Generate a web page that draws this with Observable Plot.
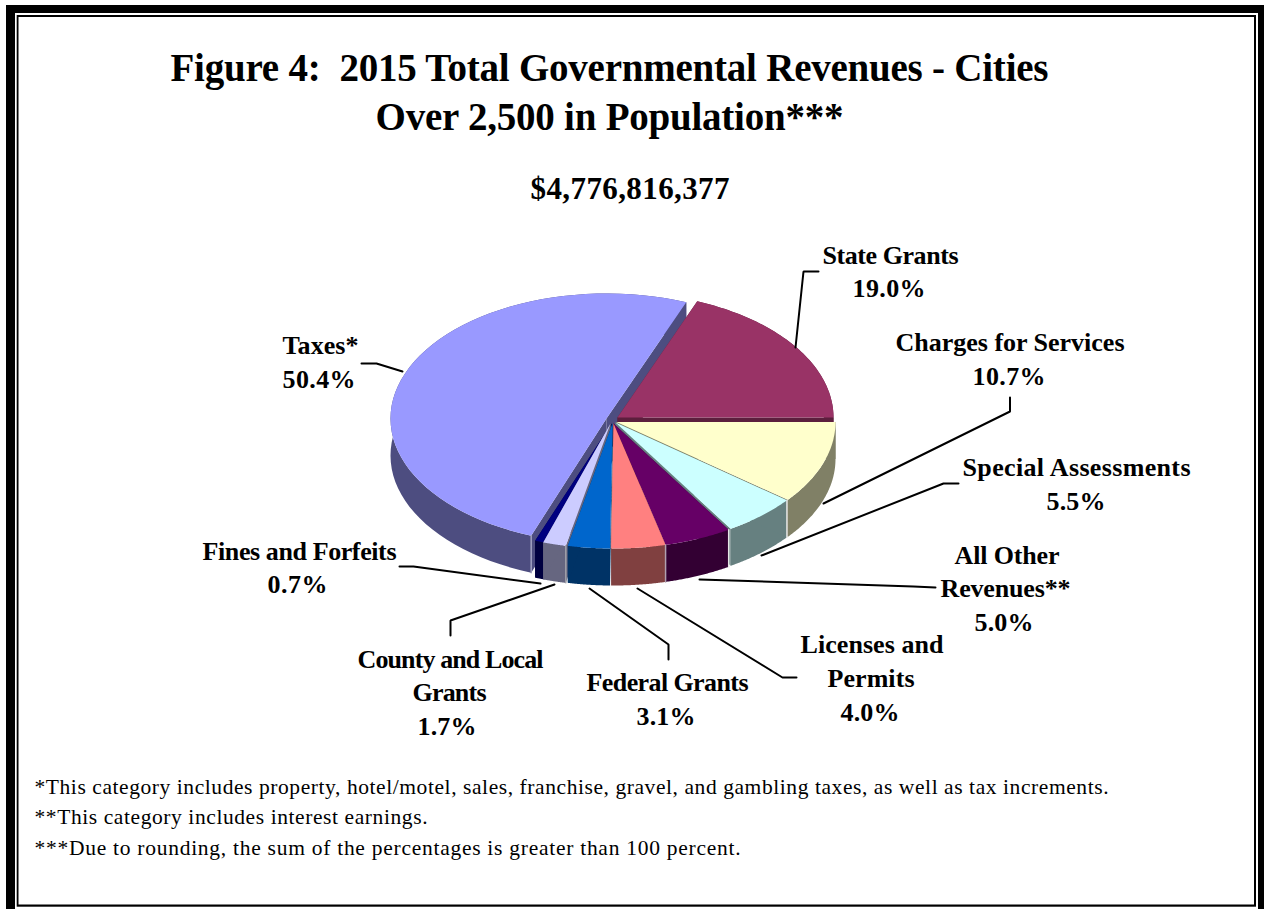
<!DOCTYPE html>
<html>
<head>
<meta charset="utf-8">
<style>
  html, body { margin: 0; padding: 0; background: #fff; }
  svg { display: block; }
  svg text { white-space: pre; }
</style>
<script src="https://cdn.jsdelivr.net/npm/d3@7"></script>
<script src="https://cdn.jsdelivr.net/npm/@observablehq/plot@0.6"></script>
</head>
<body>
<script>
// ---- data: clockwise from the 3 o'clock position
const categories = ["Charges for Services", "Special Assessments", "All Other Revenues**", "Licenses and Permits",
  "Federal Grants", "County and Local Grants", "Fines and Forfeits", "Taxes*", "State Grants"];
const shares = [10.7, 5.5, 5.0, 4.0, 3.1, 1.7, 0.7, 50.4, 19.0];
const topColors = ["#FFFFCC", "#CCFFFF", "#660066", "#FF8080", "#0066CC", "#CCCCFF", "#000080", "#9999FF", "#993366"];
const wallColors = ["#808066", "#668080", "#330033", "#804040", "#003366", "#666680", "#000040", "#4D4D80", "#5C1F3D"];

const titleLines = ["Figure 4:  2015 Total Governmental Revenues - Cities", "Over 2,500 in Population***"];
const totalLabel = "$4,776,816,377";
const footnotes = [
  "*This category includes property, hotel/motel, sales, franchise, gravel, and gambling taxes, as well as tax increments.",
  "**This category includes interest earnings.",
  "***Due to rounding, the sum of the percentages is greater than 100 percent."
];

// ---- layout of the exploded pie
const radiiX = [219, 219, 219, 219, 219, 219, 219, 216, 216];
const radiusY = 125, depth = 37;
const sliceCentres = [[616, 421.5], [615, 422], [613, 423], [613, 423], [612, 423], [610, 423], [611, 423], [606, 418], [617, 417]];
const paintOrder = [7, 8, 0, 1, 2, 6, 5, 4, 3];
// slices whose wall has a pale highlight on its clockwise-start corner
const wallEdges = [[1, "#e6e6e6"], [2, "#e6e6e6"], [3, "#b0a0b0"], [5, "#a0a0a8"], [7, "#a0a0c0"]];

const arcs = d3.pie().sort(null).startAngle(Math.PI / 2).endAngle(Math.PI / 2 + 2 * Math.PI)(shares);
const pointOn = (i, a, dz = 0) => ({
  x: sliceCentres[i][0] + radiiX[i] * Math.sin(a),
  y: sliceCentres[i][1] - radiusY * Math.cos(a) + dz
});
const facePoints = [];
for (const i of paintOrder) {
  const [cx, cy] = sliceCentres[i];
  const {startAngle: a0, endAngle: a1} = arcs[i];
  const rim = d3.range(0, 61).map((k) => a0 + (a1 - a0) * k / 60);
  const shapes = [
    {id: "a", pts: [...rim.map((a) => pointOn(i, a)), ...rim.slice().reverse().map((a) => pointOn(i, a, depth))]},
    {id: "b", pts: [{x: cx, y: cy}, pointOn(i, a0), pointOn(i, a0, depth), {x: cx, y: cy + depth}]},
    {id: "c", pts: [{x: cx, y: cy}, pointOn(i, a1), pointOn(i, a1, depth), {x: cx, y: cy + depth}]},
    {id: "d", pts: [{x: cx, y: cy}, ...rim.map((a) => pointOn(i, a))], top: true}
  ];
  for (const s of shapes) for (const p of s.pts) {
    facePoints.push({...p, id: `${i}-${s.id}`, color: s.top ? topColors[i] : wallColors[i]});
  }
}
const edgePoints = wallEdges.flatMap(([i, color]) => [
  {...pointOn(i, arcs[i].startAngle), i, color},
  {...pointOn(i, arcs[i].startAngle, depth), i, color}
]);

// ---- text lines: [text, centre x, baseline y, width, size]
const pct = (i) => shares[i].toFixed(1) + "%";
const boldLines = [
  [titleLines[0], 609, 80, 878, 39],
  [titleLines[1], 609, 129, 468, 39],
  [totalLabel, 629.5, 198, 199, 31],
  ["State Grants", 890, 263, 136, 26], [pct(8), 888.5, 296, 73, 26],
  ["Charges for Services", 1009.5, 350, 229, 26], [pct(0), 1008.5, 384, 73, 26],
  ["Special Assessments", 1076, 475, 228, 26], [pct(1), 1075.5, 509, 59, 26],
  ["All Other", 1006.5, 563, 105, 26], ["Revenues**", 1005, 596, 130, 26], [pct(2), 1003.5, 630, 59, 26],
  ["Licenses and", 871.5, 652, 143, 26], ["Permits", 870.5, 686, 87, 26], [pct(3), 869.5, 720, 59, 26],
  ["Federal Grants", 667, 690, 162, 26], [pct(4), 665.5, 724, 59, 26],
  ["County and Local", 450, 667, 186, 26], ["Grants", 449, 700, 74, 26], [pct(5), 446.5, 734, 59, 26],
  ["Fines and Forfeits", 299, 559, 194, 26], [pct(6), 297, 592, 60, 26],
  ["Taxes*", 320, 353, 76, 26], [pct(7), 318.5, 387, 73, 26]
].map(([text, x, y, width, size]) => ({text, x, y, width, size}));
const noteLines = [
  [footnotes[0], 34, 793, 1074],
  [footnotes[1], 34, 823, 393],
  [footnotes[2], 34, 854, 706]
].map(([text, x, y, width]) => ({text, x, y, width, size: 21.5}));

// ---- leader lines from labels to slices
const leaders = [
  [[818, 271], [803, 271], [795, 347]],
  [[1009.5, 397], [1009.5, 411], [823, 503]],
  [[958, 483], [943, 483], [761, 555]],
  [[935, 587], [913, 586], [699, 579]],
  [[796, 677], [782, 677], [637, 588]],
  [[668, 659], [668, 644], [589, 588]],
  [[450, 635], [450, 620], [554, 584]],
  [[399, 566], [413, 566], [540, 583]],
  [[361, 363], [376, 363], [402, 371]]
].flatMap((pts, k) => pts.map(([x, y]) => ({x, y, k})));

// ---- double border
const frameBands = [
  {x1: 6, x2: 1264, y1: 5, y2: 920, fill: "#000"},
  {x1: 15, x2: 1258, y1: 13, y2: 909, fill: "#fff"},
  {x1: 16.7, x2: 1256, y1: 15, y2: 906.7, fill: "#000"},
  {x1: 18.5, x2: 1254, y1: 17, y2: 904.5, fill: "#fff"}
];

const fitted = (lines) => (index, scales, values, dims, context, next) => {
  const g = next(index, scales, values, dims, context);
  d3.select(g).selectAll("text").attr("textLength", (i) => lines[i].width);
  return g;
};

const chart = Plot.plot({
  width: 1264,
  height: 909,
  margin: 0,
  x: {domain: [0, 1264], range: [0, 1264], axis: null},
  y: {domain: [0, 909], range: [0, 909], axis: null},
  color: {type: "identity"},
  style: {background: "#fff", fontFamily: "'Liberation Serif', 'Times New Roman', serif", color: "#000"},
  marks: [
    Plot.rect(frameBands, {x1: "x1", x2: "x2", y1: "y1", y2: "y2", fill: "fill"}),
    Plot.line(facePoints, {x: "x", y: "y", z: "id", fill: "color", stroke: "none", curve: "linear"}),
    Plot.line(edgePoints, {x: "x", y: "y", z: "i", stroke: "color", strokeWidth: 1.5, curve: "linear"}),
    Plot.line(leaders, {x: "x", y: "y", z: "k", stroke: "#000", strokeWidth: 2, curve: "linear", strokeLinejoin: "miter"}),
    Plot.text(boldLines, {
      x: "x", y: "y", text: "text", fontSize: "size", fontWeight: "bold", textAnchor: "middle",
      lineAnchor: "bottom", fill: "#000", render: fitted(boldLines)
    }),
    Plot.text(noteLines, {
      x: "x", y: "y", text: "text", fontSize: "size", textAnchor: "start",
      lineAnchor: "bottom", fill: "#000", render: fitted(noteLines)
    })
  ]
});
document.body.appendChild(chart);
</script>
</body>
</html>
